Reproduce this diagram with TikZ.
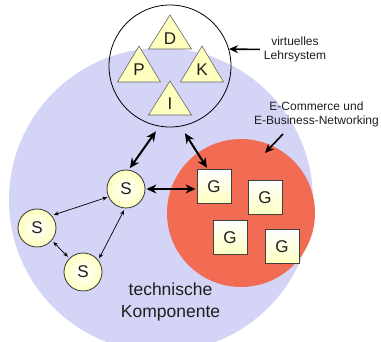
\documentclass[tikz,border=0pt]{standalone}
\usepackage{fontspec}
\setmainfont{Liberation Sans}
\usetikzlibrary{arrows.meta}
\definecolor{techblue}{RGB}{212,212,246}
\definecolor{ecred}{RGB}{242,108,84}
\definecolor{triyel}{RGB}{255,255,192}
\definecolor{txt}{RGB}{30,30,30}
\begin{document}
\begin{tikzpicture}[x=1pt,y=-1pt,
  font=\fontsize{17}{20}\selectfont,
  snode/.style={circle, draw=black!80, line width=0.8pt, minimum size=38pt, inner sep=0pt, inner color=white, outer color=triyel, text=txt},
  gnode/.style={rectangle, draw=black!75, line width=1pt, minimum size=34pt, inner sep=0pt, top color=white, bottom color=triyel, text=txt},
  tri/.style={draw=black!60, line width=0.6pt, fill=triyel},
  letter/.style={inner sep=0pt, text=txt},
  bigarr/.style={{Stealth[length=10pt,width=9pt]}-{Stealth[length=10pt,width=9pt]}, line width=2pt},
  thinarr/.style={{Stealth[length=5pt,width=4pt]}-{Stealth[length=5pt,width=4pt]}, line width=0.7pt},
  medarr/.style={-{Stealth[length=9pt,width=8pt]}, line width=1.6pt},
  lab/.style={font=\fontsize{12}{14.5}\selectfont, align=center, text=txt, inner sep=0pt},
]
\useasboundingbox (0,0) rectangle (381,342);
\clip (0,0) rectangle (381,342);

% technische Komponente
\node[circle, fill=techblue, minimum size=304pt, inner sep=0pt] (TC) at (161,200) {};
% E-Commerce region
\node[circle, fill=ecred, minimum size=148pt, inner sep=0pt] (RC) at (241,213) {};

% virtuelles Lehrsystem
\node[circle, draw=black, line width=0.8pt, minimum size=122pt, inner sep=0pt] (VL) at (170,66) {};
\path[tri] (170,15) -- (191.5,49) -- (148.5,49) -- cycle;
\path[tri] (139,46) -- (160.5,82) -- (117.5,82) -- cycle;
\path[tri] (202,46) -- (223.5,82) -- (180.5,82) -- cycle;
\path[tri] (170,81) -- (191.5,115) -- (148.5,115) -- cycle;
\node[letter] (D) at (170,38.5) {D};
\node[letter] (P) at (139,70) {P};
\node[letter] (K) at (202,70) {K};
\node[letter] (I) at (170,103.5) {I};

% S nodes
\node[snode] (S1) at (126,189) {S};
\node[snode] (S2) at (37,228) {S};
\node[snode] (S3) at (83,272) {S};

% G nodes
\node[gnode] (G1) at (214,187) {G};
\node[gnode] (G2) at (265,198) {G};
\node[gnode] (G3) at (230,238) {G};
\node[gnode] (G4) at (282,247) {G};

% labels
\node[lab] (lehr) at (295,49.5) {virtuelles\\Lehrsystem};
\node[lab] (ec) at (316.5,114.5) {E-Commerce und\\E-Business-Networking};
\node[align=center, text=txt, inner sep=0pt, font=\fontsize{17.5}{21.5}\selectfont] (tk) at (170.5,302) {technische\\Komponente};

% connectors
\draw[bigarr, shorten <=6pt, shorten >=2pt] (VL.260) -- (S1.82);
\draw[bigarr, shorten <=8pt, shorten >=2pt] (VL.-80) -- ([xshift=-6pt]G1.north);
\draw[bigarr, shorten <=1pt, shorten >=1pt] (S1.east) -- (S1.east -| G1.west);
\draw[thinarr, shorten <=1pt, shorten >=2pt] (S1.204) -- (S2.40);
\draw[thinarr, shorten <=2pt, shorten >=2pt] (S1.267) -- (S3.38);
\draw[thinarr, shorten <=2pt, shorten >=2pt] (S2.320) -- (S3.135);
\draw[medarr, shorten <=4pt] (lehr.west) -- (VL.16);
\coordinate (ecTail) at (283,134);
\coordinate (ecTip) at (265,153);
\draw[medarr] (ecTail) -- (ecTip);
\end{tikzpicture}
\end{document}
